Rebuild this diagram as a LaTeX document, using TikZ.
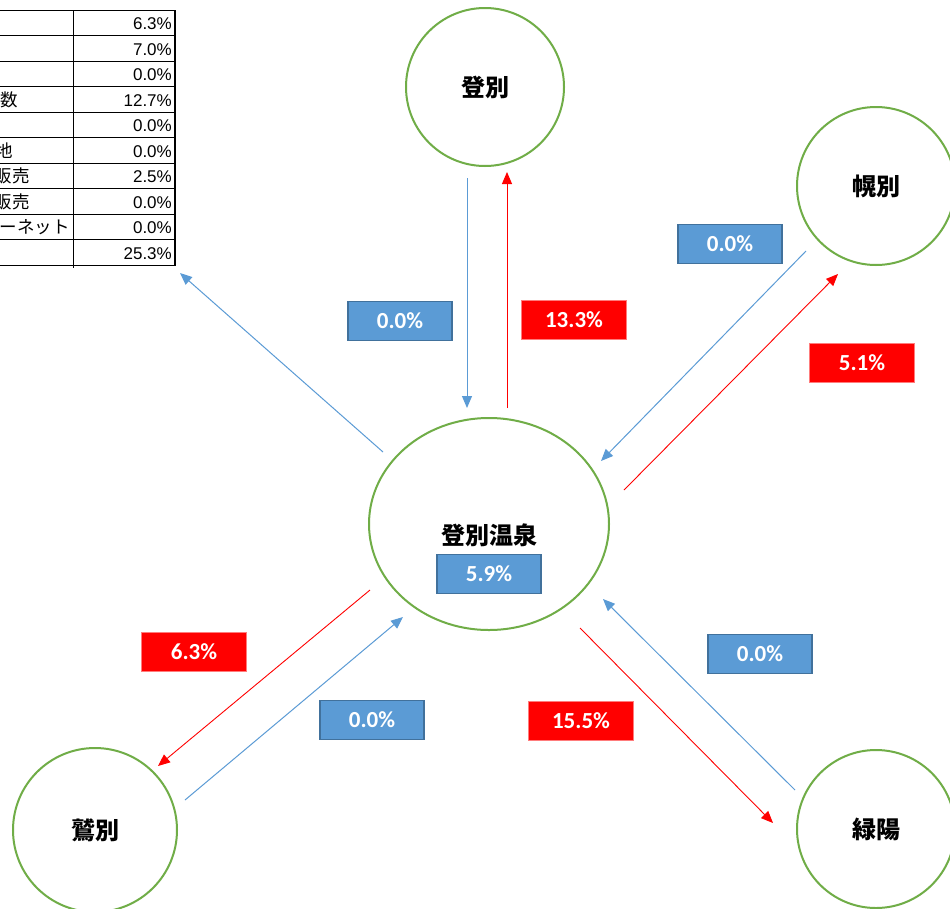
\documentclass[tikz,border=0pt]{standalone}
\usepackage{fontspec}
\setmainfont{Carlito}
\newfontfamily\jp{Noto Sans CJK JP}
\newfontfamily\num{Liberation Sans}
\usetikzlibrary{shapes.geometric,arrows.meta}
\definecolor{cgreen}{HTML}{70AD47}
\definecolor{cblue}{HTML}{5B9BD5}
\definecolor{cbluedark}{HTML}{41719C}
\definecolor{cline}{HTML}{5B9BD5}
\definecolor{cpink}{HTML}{FF7C7C}
\tikzset{
  place/.style={circle,draw=cgreen,line width=2pt,minimum size=158pt,inner sep=0pt,font=\jp\bfseries\fontsize{24}{24}\selectfont},
  bluebox/.style={draw=cbluedark,line width=1.5pt,fill=cblue,minimum width=104pt,minimum height=39pt,inner sep=0pt,text=white,font=\bfseries\fontsize{23}{23}\selectfont},
  redbox/.style={draw=cpink,line width=0.8pt,fill=red,minimum width=105pt,minimum height=39pt,inner sep=0pt,text=white,font=\bfseries\fontsize{23}{23}\selectfont},
  bluearrow/.style={draw=cline,line width=1pt,-{Triangle[length=12pt,width=10pt]}},
  redarrow/.style={draw=red,line width=0.9pt,-{Triangle[length=12pt,width=10pt]}},
  numcell/.style={anchor=east,inner sep=0pt,font=\num\fontsize{17}{17}\selectfont},
  txtcell/.style={anchor=east,inner sep=0pt,font=\jp\fontsize{17.5}{17.5}\selectfont},
}
\begin{document}
\begin{tikzpicture}[x=1pt,y=-1pt]
\useasboundingbox (0,0) rectangle (950,908);
\fill[white] (0,0) rectangle (950,908);
\begin{scope}
\clip (0,0) rectangle (950,908);
% table
\foreach \r in {0,...,10} {
  \draw[line width=1pt] (-5,{10+25.5*\r}) -- (175,{10+25.5*\r});
}
\draw[line width=1pt] (73,10) -- (73,268);
\draw[line width=1.6pt] (175,10) -- (175,266);
\foreach \v [count=\i from 0] in {6.3\%,7.0\%,0.0\%,12.7\%,0.0\%,0.0\%,2.5\%,0.0\%,0.0\%,25.3\%} {
  \node[numcell] (n\i) at (172,{10+25.5*\i+14}) {\v};
}
\node[txtcell] (t3) at (18,{10+25.5*3+13}) {観光客数};
\node[txtcell] (t5) at (13,{10+25.5*5+13}) {その他地};
\node[txtcell] (t6) at (30,{10+25.5*6+13}) {店頭販売};
\node[txtcell] (t7) at (30,{10+25.5*7+13}) {店頭販売};
\node[txtcell] (t8) at (70,{10+25.5*8+13}) {インターネット};

% places
\node[place] (nob) at (485,87) {登別};
\node[place] (hor) at (876,186) {幌別};
\node[place,minimum size=164pt] (wa) at (95,830) {鷲別};
\node[place] (ryo) at (876,829) {緑陽};
\node[ellipse,draw=cgreen,line width=2pt,minimum width=240pt,minimum height=212pt] (cen) at (489,524) {};
\node[font=\jp\bfseries\fontsize{24}{24}\selectfont,inner sep=0pt] (cenlbl) at (489,535) {登別温泉};
\node[bluebox] (cenv) at (489,574) {5.9\%};

% endpoints
\coordinate (a1s) at (467,178); \coordinate (a1e) at (467,408);
\coordinate (a2s) at (507,408); \coordinate (a2e) at (507,172);
\coordinate (a3s) at (806,251); \coordinate (a3e) at (601,461);
\coordinate (a4s) at (624,490); \coordinate (a4e) at (838,274);
\coordinate (a5s) at (383,452); \coordinate (a5e) at (180,273);
\coordinate (a6s) at (370,590); \coordinate (a6e) at (158,766);
\coordinate (a7s) at (185,800); \coordinate (a7e) at (403,617);
\coordinate (a8s) at (580,628); \coordinate (a8e) at (773,823);
\coordinate (a9s) at (795,790); \coordinate (a9e) at (603,599);

\draw[bluearrow] (a1s) -- (a1e);
\draw[redarrow] (a2s) -- (a2e);
\draw[bluearrow] (a3s) -- (a3e);
\draw[redarrow] (a4s) -- (a4e);
\draw[bluearrow] (a5s) -- (a5e);
\draw[redarrow] (a6s) -- (a6e);
\draw[bluearrow] (a7s) -- (a7e);
\draw[redarrow] (a8s) -- (a8e);
\draw[bluearrow] (a9s) -- (a9e);

% labels
\node[bluebox] (l1) at (400,321) {0.0\%};
\node[redbox] (l2) at (574,320) {13.3\%};
\node[bluebox] (l3) at (730,244) {0.0\%};
\node[redbox] (l4) at (862,363) {5.1\%};
\node[redbox] (l6) at (194,652) {6.3\%};
\node[bluebox] (l7) at (372,720) {0.0\%};
\node[redbox] (l8) at (581,721) {15.5\%};
\node[bluebox] (l9) at (760,654) {0.0\%};
\end{scope}
\end{tikzpicture}
\end{document}
